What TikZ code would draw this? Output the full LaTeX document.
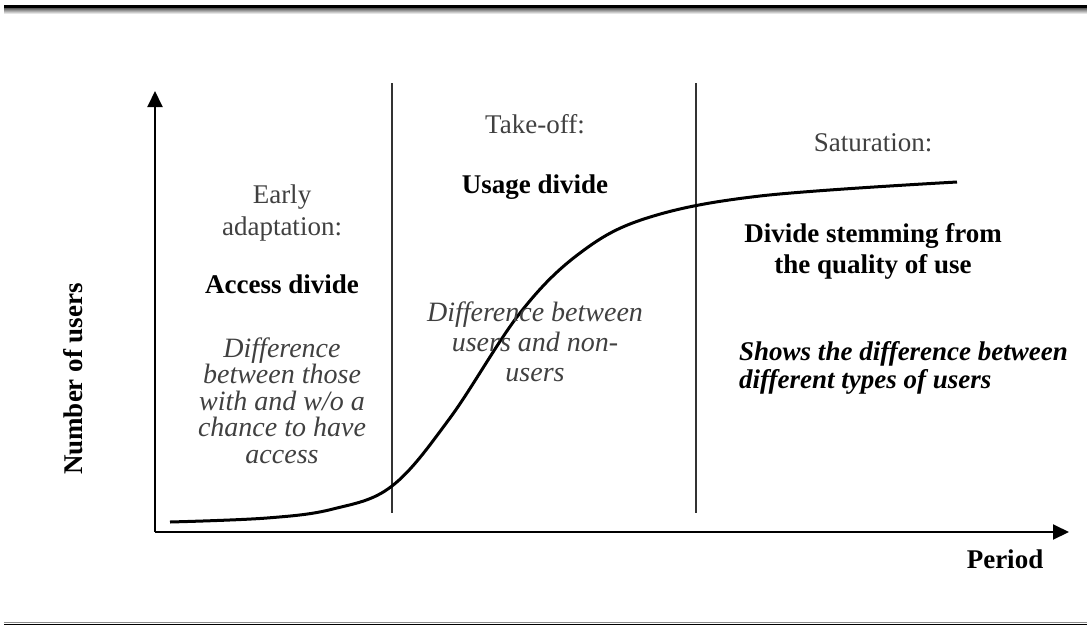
\documentclass[tikz,border=0pt]{standalone}
\usepackage{fontspec}
\setmainfont{Liberation Serif}
\usetikzlibrary{arrows.meta,positioning}

\begin{document}
\begin{tikzpicture}[x=1pt,y=-1pt,>={Triangle[length=16pt,width=15pt]}]
\tikzstyle{plain}=[text=black!75, align=center, inner sep=0pt, anchor=base, font=\fontsize{27}{32}\selectfont]
\tikzstyle{head}=[plain, text=black, font=\bfseries\fontsize{27}{31}\selectfont]
\tikzstyle{note}=[plain, font=\itshape\fontsize{28}{26.5}\selectfont]
\tikzstyle{axis}=[line width=2pt]
\tikzstyle{phase}=[line width=1.3pt, black!80]

\useasboundingbox (0,0) rectangle (1087,627);

% rules above and below
\shade[top color=black!75, bottom color=black!10] (4,7) rectangle (1087,13);
\draw[line width=2.2pt] (4,6.5) -- (1087,6.5);
\draw[black!45, line width=1pt] (4,622.8) -- (1087,622.8);
\draw[line width=1.8pt] (4,624.5) -- (1087,624.5);

\coordinate (O) at (155,532);
\coordinate (X) at (1069,532);
\coordinate (Y) at (155,91);
\coordinate (P) at (392,83);
\coordinate (Q) at (392,513);
\coordinate (R) at (696,83);
\coordinate (S) at (696,513);

\draw[axis,->] (O) -- (X);
\draw[axis,->] (O) -- (Y);
\draw[phase] (P) -- (Q);
\draw[phase] (R) -- (S);

% diffusion curve
\draw[line width=3pt] plot[smooth,tension=0.6] coordinates {(170,522) (267,518) (333,509) (392,486) (450,418) (520,313) (580,253) (647,218) (760,196) (957,182)};

\node[plain] (A) at (282,235) {Early\\adaptation:};
\node[head]  (B) at (282,293) {Access divide};
\node[note]  (C) [below=170pt of B.base, anchor=base] {Difference\\between those\\with and w/o a\\chance to have\\access};

\node[plain] (D) at (535,133) {Take-off:};
\node[head]  (E) [below=60pt of D.base, anchor=base] {Usage divide};
\node[note, font=\itshape\fontsize{28}{30}\selectfont] (F) [below=188pt of E.base, anchor=base] {Difference between\\users and non-\\users};

\node[plain] (G) at (873,151) {Saturation:};
\node[head]  (H) [below=122pt of G.base, anchor=base] {Divide stemming from\\the quality of use};
\node[head, font=\bfseries\itshape\fontsize{27}{28}\selectfont, align=left, anchor=base west] (I) at (739,388) {Shows the difference between\\different types of users};

\node[head, rotate=90] (N) at (82,379) {Number of users};
\node[head] (T) at (1005,568) {Period};
\end{tikzpicture}
\end{document}
